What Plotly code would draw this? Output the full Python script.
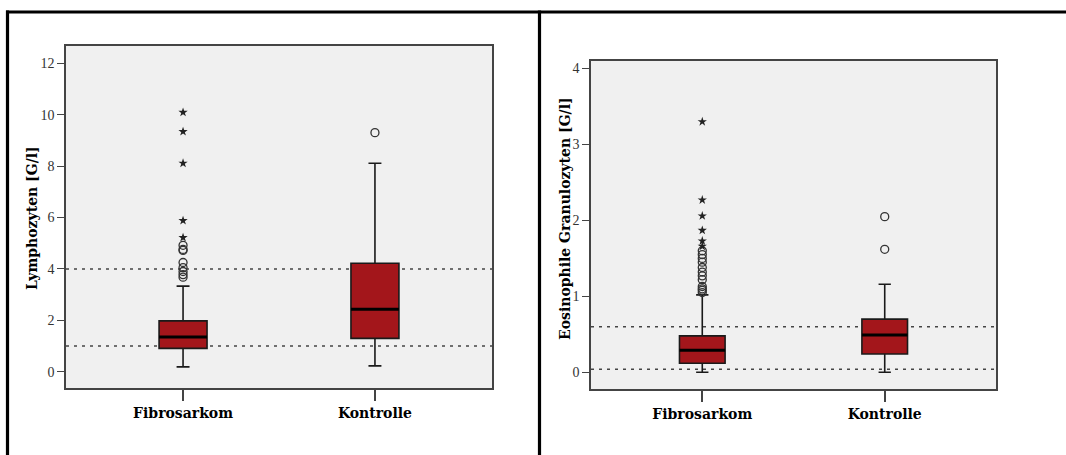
import plotly.graph_objects as go

# Groups shown on both panels
categories = ["Fibrosarkom", "Kontrolle"]

# Lymphozyten [G/l] – box statistics per group
lym_q1 = [0.91, 1.30]
lym_median = [1.35, 2.43]
lym_q3 = [1.98, 4.22]
lym_low = [0.19, 0.23]
lym_high = [3.33, 8.11]
lym_out_circle = [[4.92, 4.76, 4.72, 4.25, 4.05, 3.90, 3.78, 3.68], [9.30]]
lym_out_star = [[10.09, 9.34, 8.11, 5.88, 5.22], []]
lym_ref = [1.0, 4.0]

# Eosinophile Granulozyten [G/l] – box statistics per group
eos_q1 = [0.12, 0.24]
eos_median = [0.29, 0.49]
eos_q3 = [0.48, 0.70]
eos_low = [0.0, 0.0]
eos_high = [1.02, 1.16]
eos_out_circle = [[1.05, 1.08, 1.10, 1.13, 1.22, 1.27, 1.32, 1.38, 1.45, 1.50, 1.55, 1.60],
                  [2.05, 1.62]]
eos_out_star = [[3.30, 2.27, 2.06, 1.87, 1.73, 1.66], []]
eos_ref = [0.04, 0.60]

W, H = 1066, 455
BOX_W = 0.25
FILL = "#A3161B"
SERIF = "DejaVu Serif"

fig = go.Figure()


def add_panel(xa, ya, q1, med, q3, lo, hi, circ, star, refs):
    for i, cat in enumerate(categories):
        fig.add_trace(go.Box(
            x=[i], q1=[q1[i]], median=[med[i]], q3=[q3[i]],
            lowerfence=[lo[i]], upperfence=[hi[i]],
            width=BOX_W, whiskerwidth=0.27, boxpoints=False,
            fillcolor=FILL, line=dict(color="#1a1a1a", width=1.6),
            xaxis=xa, yaxis=ya, showlegend=False, hoverinfo="skip"))
        # thick median bar
        fig.add_trace(go.Scatter(
            x=[i - BOX_W / 2, i + BOX_W / 2], y=[med[i], med[i]],
            mode="lines", line=dict(color="black", width=3),
            xaxis=xa, yaxis=ya, showlegend=False, hoverinfo="skip"))
        if circ[i]:
            fig.add_trace(go.Scatter(
                x=[i] * len(circ[i]), y=circ[i], mode="markers",
                marker=dict(symbol="circle-open", size=8, color="#333",
                            line=dict(width=1.3)),
                xaxis=xa, yaxis=ya, showlegend=False, hoverinfo="skip"))
        if star[i]:
            fig.add_trace(go.Scatter(
                x=[i] * len(star[i]), y=star[i], mode="markers",
                marker=dict(symbol="star", size=7, color="#222"),
                xaxis=xa, yaxis=ya, showlegend=False, hoverinfo="skip"))
    for r in refs:
        fig.add_shape(type="line", xref=f"{xa} domain", yref=ya,
                      x0=0, x1=1, y0=r, y1=r,
                      line=dict(color="#444", width=1.5, dash="3px,5px"),
                      layer="below")


add_panel("x", "y", lym_q1, lym_median, lym_q3, lym_low, lym_high,
          lym_out_circle, lym_out_star, lym_ref)
add_panel("x2", "y2", eos_q1, eos_median, eos_q3, eos_low, eos_high,
          eos_out_circle, eos_out_star, eos_ref)

xcommon = dict(
    range=[-0.61, 1.61], tickvals=list(range(len(categories))), ticktext=categories,
    ticks="outside", ticklen=11, tickwidth=1.5, tickcolor="#444",
    showline=True, mirror=True, linecolor="#444", linewidth=1.5,
    showgrid=False, zeroline=False,
    tickfont=dict(family=SERIF, size=14, color="black", weight="bold"),
)
ycommon = dict(
    ticks="outside", ticklen=7, tickwidth=1.2, tickcolor="#444",
    showline=True, mirror=True, linecolor="#444", linewidth=1.5,
    showgrid=False, zeroline=False,
    tickfont=dict(family="Liberation Serif", size=14, color="#333"),
)

fig.update_layout(
    width=W, height=H,
    margin=dict(l=0, r=0, t=0, b=0),
    paper_bgcolor="white", plot_bgcolor="#F0F0F0",
    xaxis=dict(domain=[66 / W, 492 / W], anchor="y", **xcommon),
    yaxis=dict(domain=[1 - 388 / H, 1 - 46 / H], anchor="x",
               range=[-0.63, 12.67], tickvals=[0, 2, 4, 6, 8, 10, 12], **ycommon),
    xaxis2=dict(domain=[591 / W, 996 / W], anchor="y2", **xcommon),
    yaxis2=dict(domain=[1 - 389 / H, 1 - 61 / H], anchor="x2",
                range=[-0.22, 4.1], tickvals=[0, 1, 2, 3, 4], **ycommon),
)

# rotated axis titles
fig.add_annotation(text="Lymphozyten [G/l]", textangle=-90, xref="paper", yref="paper",
                   x=32 / W, y=1 - 218 / H, xanchor="center", yanchor="middle",
                   showarrow=False,
                   font=dict(family=SERIF, size=14, color="black", weight="bold"))
fig.add_annotation(text="Eosinophile Granulozyten [G/l]", textangle=-90, xref="paper",
                   yref="paper", x=565 / W, y=1 - 219 / H, xanchor="center",
                   yanchor="middle", showarrow=False,
                   font=dict(family=SERIF, size=14, color="black", weight="bold"))

# outer frame: top rule, left rule and panel divider
frame = dict(color="black", width=3.2)
fig.add_shape(type="line", xref="paper", yref="paper",
              x0=6 / W, x1=1, y0=1 - 12 / H, y1=1 - 12 / H, line=frame)
fig.add_shape(type="line", xref="paper", yref="paper",
              x0=7.5 / W, x1=7.5 / W, y0=0, y1=1 - 10.5 / H, line=frame)
fig.add_shape(type="line", xref="paper", yref="paper",
              x0=539.5 / W, x1=539.5 / W, y0=0, y1=1 - 10.5 / H, line=frame)

fig.write_html("out.html")
